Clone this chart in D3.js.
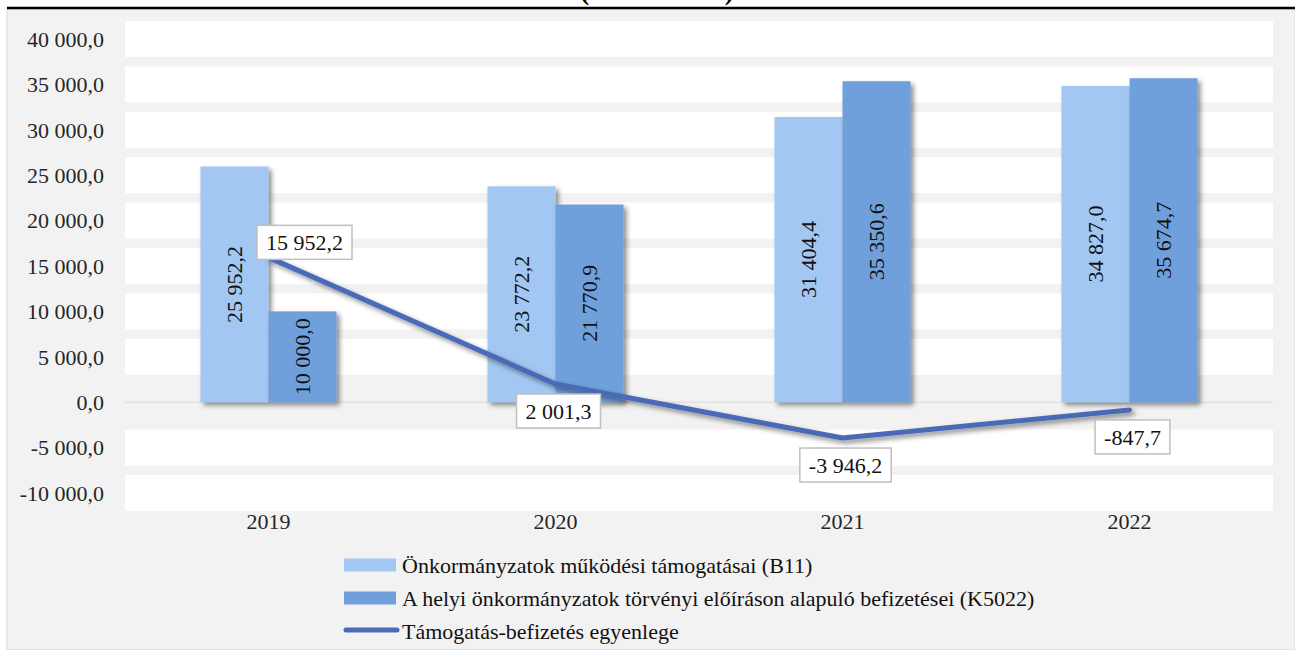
<!DOCTYPE html>
<html>
<head>
<meta charset="utf-8">
<script src="https://cdn.jsdelivr.net/npm/d3@7"></script>
<style>
  body { margin: 0; background: #fff; }
  svg text { font-family: 'Liberation Serif', 'Times New Roman', Times, 'DejaVu Serif', serif; }
</style>
</head>
<body>
<div id="chart"></div>
<script>
// data
var years = ["2019", "2020", "2021", "2022"];
var seriesNames = [
  "Önkormányzatok működési támogatásai (B11)",
  "A helyi önkormányzatok törvényi előíráson alapuló befizetései (K5022)",
  "Támogatás-befizetés egyenlege"
];
var tamogatas = [25952.2, 23772.2, 31404.4, 34827.0];
var befizetes = [10000.0, 21770.9, 35350.6, 35674.7];
var egyenleg = [15952.2, 2001.3, -3946.2, -847.7];
var yTicks = [-10000, -5000, 0, 5000, 10000, 15000, 20000, 25000, 30000, 35000, 40000];
var lineLabelSide = ["above", "below", "below", "below"];

var width = 1295, height = 650;
var colors = ["#a2c7f2", "#70a0db", "#4a6bb6"];

var hu = d3.formatLocale({ decimal: ",", thousands: " ", grouping: [3], currency: ["", ""], minus: "-" });
var fmt = hu.format(",.1f");

var svg = d3.select("#chart").append("svg")
  .attr("width", width).attr("height", height)
  .attr("font-family", "'Liberation Serif', 'Times New Roman', serif");

var defs = svg.append("defs");
var f = defs.append("filter").attr("id", "shadow")
  .attr("x", "-20%").attr("y", "-20%").attr("width", "150%").attr("height", "150%");
f.append("feDropShadow").attr("dx", 3).attr("dy", 3).attr("stdDeviation", 2.5)
  .attr("flood-color", "#000").attr("flood-opacity", 0.45);

// chart area
svg.append("rect").attr("x", 7).attr("y", 9).attr("width", width - 7).attr("height", height - 9)
  .attr("fill", "#f2f2f2").attr("stroke", "#d9d9d9").attr("stroke-width", 1);

// cut off title (only the bottom of the brackets shows) and top rule
svg.append("text").attr("x", 657).attr("y", 0)
  .attr("text-anchor", "middle").attr("font-size", 26).attr("font-weight", "bold")
  .attr("textLength", 153).attr("lengthAdjust", "spacing")
  .text("(millió forint)");
svg.append("line").attr("x1", 7).attr("x2", width).attr("y1", 8).attr("y2", 8)
  .attr("stroke", "#000").attr("stroke-width", 2.5);

var left = 125, right = 1273;
var x0 = d3.scaleBand().domain(years).range([left, right]).padding(0);
var x1 = d3.scaleBand().domain([0, 1]).range([0, x0.bandwidth()]).paddingInner(0).paddingOuter(1.11);
var y = d3.scaleLinear().domain([-10000, 40000]).range([493, 39]);

// white gridline bands
svg.append("g").selectAll("rect")
  .data(yTicks.filter(function (t) { return t !== 0; }))
  .enter().append("rect")
  .attr("x", left).attr("width", right - left)
  .attr("y", function (t) { return y(t) - 18; }).attr("height", 36)
  .attr("fill", "#fff");

// y axis labels
svg.append("g").selectAll("text")
  .data(yTicks).enter().append("text")
  .attr("x", 104).attr("y", function (t) { return y(t); })
  .attr("dy", "0.35em").attr("text-anchor", "end")
  .attr("font-size", 22).attr("fill", "#262626")
  .text(fmt);

// zero line
svg.append("line").attr("x1", left).attr("x2", right)
  .attr("y1", y(0)).attr("y2", y(0))
  .attr("stroke", "#d9d9d9").attr("stroke-width", 1);

// bars
var barData = [];
years.forEach(function (yr, i) {
  barData.push({ year: yr, s: 0, v: tamogatas[i] });
  barData.push({ year: yr, s: 1, v: befizetes[i] });
});

var bars = svg.append("g");
bars.selectAll("rect").data(barData).enter().append("rect")
  .attr("x", function (d) { return x0(d.year) + x1(d.s); })
  .attr("width", x1.bandwidth())
  .attr("y", function (d) { return y(Math.max(0, d.v)); })
  .attr("height", function (d) { return Math.abs(y(d.v) - y(0)); })
  .attr("fill", function (d) { return colors[d.s]; })
  .attr("filter", "url(#shadow)");

bars.selectAll("text").data(barData).enter().append("text")
  .attr("transform", function (d) {
    var cx = x0(d.year) + x1(d.s) + x1.bandwidth() / 2;
    var cy = (y(d.v) + y(0)) / 2;
    return "translate(" + cx + "," + cy + ") rotate(-90)";
  })
  .attr("text-anchor", "middle").attr("dy", "0.35em")
  .attr("font-size", 22).attr("fill", "#111")
  .text(function (d) { return fmt(d.v); });

// balance line
var cx = function (i) { return x0(years[i]) + x0.bandwidth() / 2; };
var line = d3.line().x(function (d, i) { return cx(i); }).y(function (d) { return y(d); });
svg.append("path").datum(egyenleg)
  .attr("d", line).attr("fill", "none")
  .attr("stroke", colors[2]).attr("stroke-width", 5)
  .attr("stroke-linecap", "round").attr("stroke-linejoin", "round")
  .attr("filter", "url(#shadow)");

// line labels
var lbl = svg.append("g").selectAll("g").data(egyenleg).enter().append("g")
  .attr("transform", function (d, i) {
    var px = cx(i), py = y(d);
    if (lineLabelSide[i] === "above") return "translate(" + (px + 36) + "," + (py - 15) + ")";
    return "translate(" + (px + 3) + "," + (py + 27) + ")";
  });
lbl.append("rect");
lbl.append("text")
  .attr("text-anchor", "middle").attr("dy", "0.35em")
  .attr("font-size", 22).attr("fill", "#111")
  .text(fmt);
lbl.each(function () {
  var g = d3.select(this);
  var bb = g.select("text").node().getBBox();
  g.select("rect")
    .attr("x", -bb.width / 2 - 9).attr("y", -17)
    .attr("width", bb.width + 18).attr("height", 34)
    .attr("fill", "#fff").attr("stroke", "#bfbfbf").attr("stroke-width", 1.5);
});

// x labels
svg.append("g").selectAll("text").data(years).enter().append("text")
  .attr("x", function (d) { return x0(d) + x0.bandwidth() / 2; })
  .attr("y", 521).attr("dy", "0.35em").attr("text-anchor", "middle")
  .attr("font-size", 22).attr("fill", "#262626")
  .text(function (d) { return d; });

// legend
var legend = svg.append("g").attr("transform", "translate(344,565)");
var item = legend.selectAll("g").data(seriesNames).enter().append("g")
  .attr("transform", function (d, i) { return "translate(0," + (i * 33) + ")"; });
item.each(function (d, i) {
  var g = d3.select(this);
  if (i < 2) {
    g.append("rect").attr("x", 0).attr("y", -6.5).attr("width", 52).attr("height", 13)
      .attr("fill", colors[i]);
  } else {
    g.append("line").attr("x1", 2).attr("x2", 53).attr("y1", -1).attr("y2", -1)
      .attr("stroke", colors[2]).attr("stroke-width", 5).attr("stroke-linecap", "round");
  }
});
item.append("text").attr("x", 58).attr("dy", "0.35em")
  .attr("font-size", 22).attr("fill", "#111")
  .text(function (d) { return d; });
</script>
</body>
</html>
